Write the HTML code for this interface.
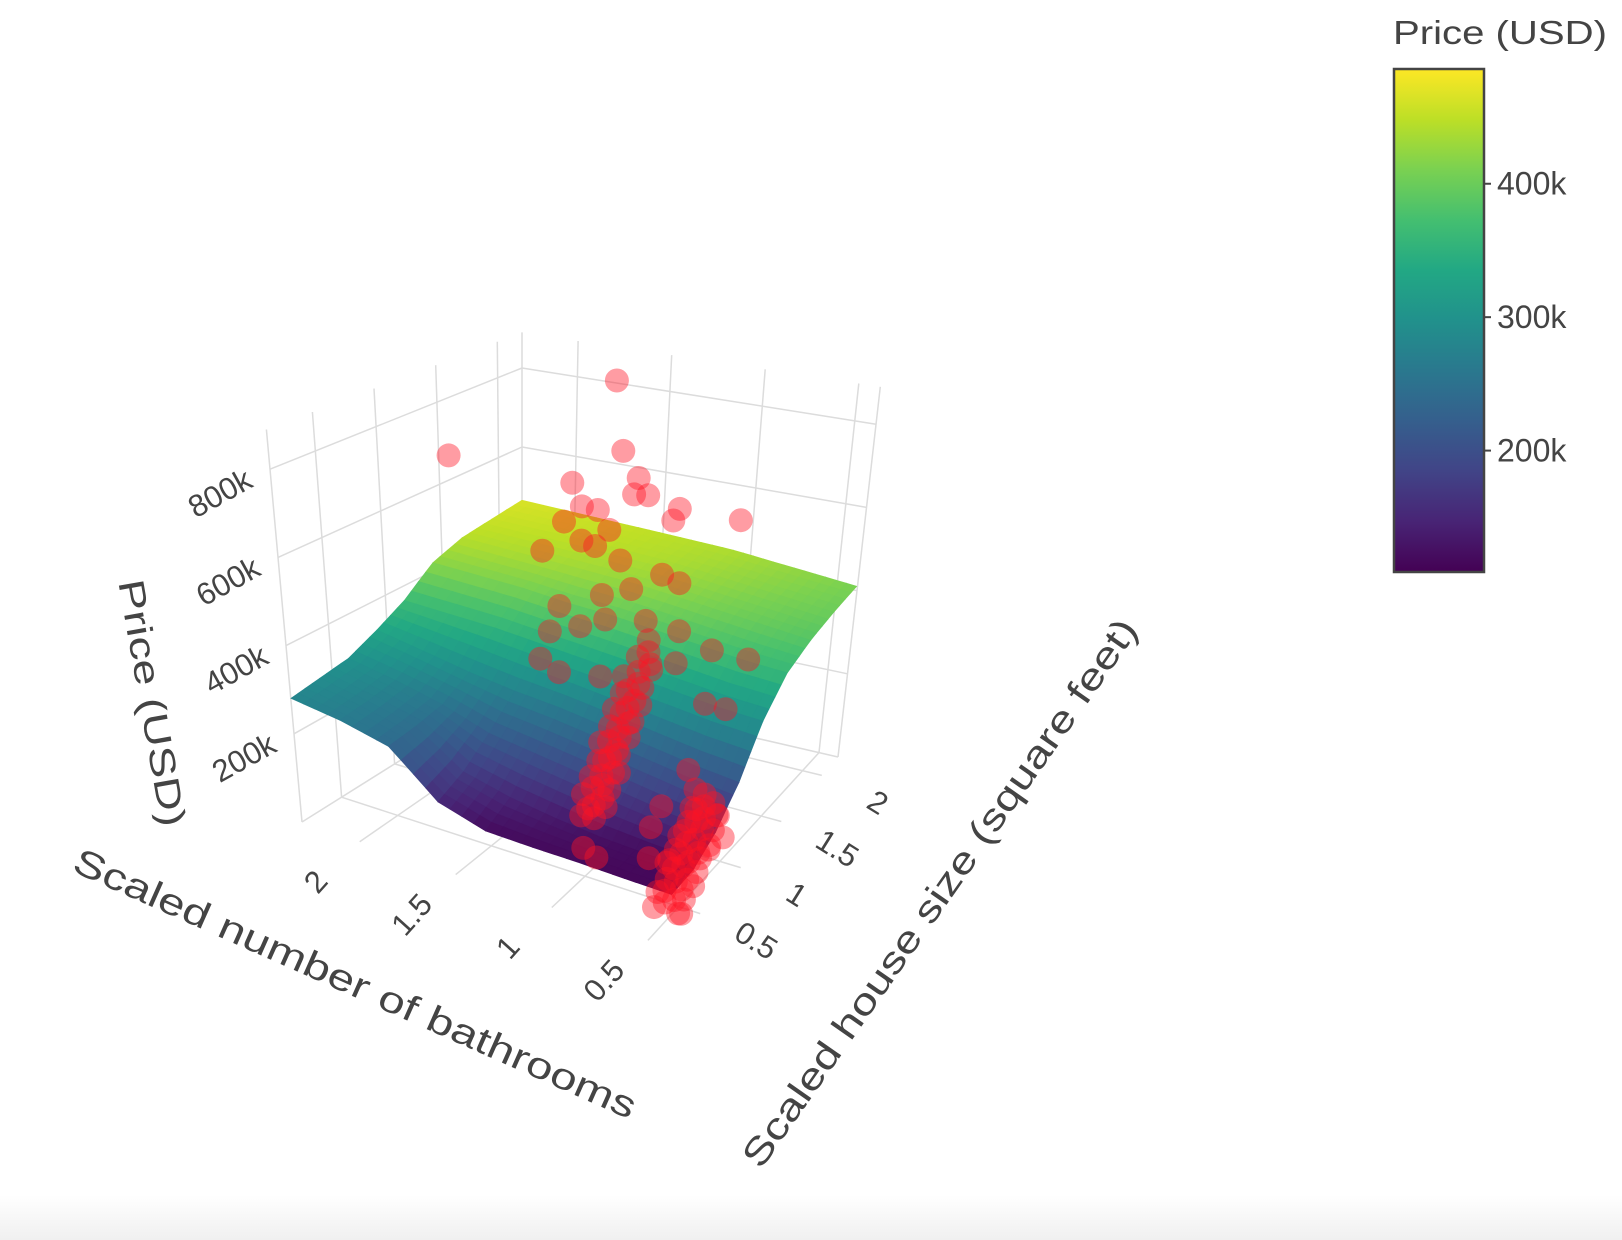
<!DOCTYPE html>
<html><head><meta charset="utf-8"><style>
html,body{margin:0;padding:0;background:#fff;}
svg{display:block;font-family:"Liberation Sans","DejaVu Sans",sans-serif;}
</style></head><body>
<svg id="chart" width="1622" height="1240" viewBox="0 0 1622 1240" xmlns="http://www.w3.org/2000/svg">
<defs>
<linearGradient id="vir" x1="0" y1="1" x2="0" y2="0">
<stop offset="0" stop-color="#440154"/><stop offset="0.1" stop-color="#482475"/><stop offset="0.2" stop-color="#414487"/><stop offset="0.3" stop-color="#355f8d"/><stop offset="0.4" stop-color="#2a788e"/><stop offset="0.5" stop-color="#21918c"/><stop offset="0.6" stop-color="#22a884"/><stop offset="0.7" stop-color="#44bf70"/><stop offset="0.8" stop-color="#7ad151"/><stop offset="0.9" stop-color="#bddf26"/><stop offset="1" stop-color="#fde725"/>
</linearGradient>
<linearGradient id="foot" x1="0" y1="0" x2="0" y2="1"><stop offset="0" stop-color="#ffffff"/><stop offset="1" stop-color="#f0f0f0"/></linearGradient>
</defs>
<rect x="0" y="1195" width="1622" height="45" fill="url(#foot)"/>
<g id="grid"></g>
<g id="surface"></g>
<g id="points"></g>
<g id="ticks"></g>
<text x="0" y="0" font-size="36" fill="#444" text-anchor="middle" textLength="250" lengthAdjust="spacingAndGlyphs" transform="translate(140,705) rotate(80)">Price (USD)</text>
<text x="0" y="0" font-size="37" fill="#444" text-anchor="middle" textLength="612" lengthAdjust="spacingAndGlyphs" transform="translate(350,995) rotate(24)">Scaled number of bathrooms</text>
<text x="0" y="0" font-size="37" fill="#444" text-anchor="middle" textLength="660" lengthAdjust="spacingAndGlyphs" transform="translate(950,900) rotate(-55)">Scaled house size (square feet)</text>
<g>
<text x="1393" y="44" font-size="33" fill="#444" textLength="214" lengthAdjust="spacingAndGlyphs">Price (USD)</text>
<rect x="1394" y="69" width="90" height="503" fill="url(#vir)" stroke="#444" stroke-width="2.5"/>
<g id="cbticks"></g>
</g>
</svg>
<script>
// ---- surface grid data ----
const gridBath = [0.39,0.63,0.87,1.10,1.34,1.58,1.82,2.06,2.30];
const gridSize = [0.13,0.39,0.65,0.91,1.16,1.42,1.68,1.94,2.20];
const gridPrice = [
 [115,118,150,210,300,360,385,400,410],
 [116,120,160,220,305,365,395,410,420],
 [118,125,175,235,315,375,405,420,430],
 [118,135,190,250,325,385,415,430,440],
 [120,150,205,265,335,395,425,440,445],
 [150,175,220,275,345,400,430,445,450],
 [240,245,255,290,355,410,435,450,455],
 [265,270,280,310,360,415,440,452,460],
 [280,290,300,330,365,420,445,455,465]
];
// ---- scatter data (scaled bathrooms, scaled size, price in k USD) ----
const ptBath = [1.21,2.04,1.17,1.42,1.09,1.11,1.04,0.88,0.575,1.37,1.29,1.46,1.23,0.91,1.37,1.57,1.30,1.17,0.955,0.865,1.11,1.26,1.48,1.24,1.37,1.53,1.03,0.855,0.68,0.49,1.58,1.48,1.26,0.865,0.70,0.59,0.77,0.725,0.63,0.68,0.44,0.44,0.96,1.03,0.685,
 0.88,0.92,0.90,0.87,0.93,0.89,0.91,0.86,0.92,0.90,0.88,0.93,0.89,0.91,0.87,0.92,0.90,0.88,0.93,0.89,0.91,0.87,0.90,0.92,
 0.95,0.84,0.97,0.85,0.96,0.83,0.95,0.86,0.97,0.84,0.95,0.85,0.96,0.84,0.95,0.86,0.97,0.85,0.94,
 0.42,0.50,0.46,0.52,0.44,0.48,0.43,0.51,0.47,0.45,0.50,0.42,0.49,0.46,0.52,0.44,0.48,0.45,0.50,0.47,0.43,0.49,
 0.40,0.55,0.41,0.56,0.39,0.54,0.40,0.57,0.41,0.55,0.39,0.56,0.40,0.54,0.41,0.55,0.40,0.56];
const ptSize = [1.16,1.16,1.16,1.16,1.16,1.16,1.16,1.16,1.16,1.16,1.16,1.16,1.16,1.16,1.16,1.16,1.16,1.16,1.16,1.16,1.16,1.16,1.16,1.16,1.16,1.16,1.16,1.16,1.16,1.16,1.16,1.16,1.16,1.16,1.16,1.16,1.16,1.16,0.54,0.54,0.87,0.79,0.54,0.54,0.54,
 0.33,0.35,0.37,0.40,0.42,0.44,0.47,0.49,0.52,0.54,0.57,0.59,0.62,0.64,0.67,0.70,0.72,0.75,0.78,0.81,0.85,0.89,0.93,0.97,
 0.34,0.37,0.40,0.43,0.46,0.49,0.52,0.55,0.58,0.61,0.64,0.67,0.70,0.73,0.76,0.79,0.82,0.86,0.90,
 0.30,0.32,0.34,0.36,0.38,0.40,0.42,0.44,0.46,0.48,0.50,0.52,0.54,0.56,0.58,0.60,0.62,0.64,0.66,0.68,0.70,0.73,
 0.29,0.31,0.34,0.37,0.40,0.43,0.46,0.49,0.52,0.55,0.58,0.61,0.64,0.67,0.70,0.72,0.60,0.50];
const ptPrice = [1000,740,840,740,785,745,750,735,740,690,690,645,650,705,610,565,605,585,575,565,525,495,445,440,410,380,460,455,430,430,310,290,305,380,305,305,145,105,198,145,88,153,40,52,75,
 177,190,196,210,222,230,243,252,266,272,286,296,305,318,330,342,352,365,378,392,410,425,442,460,
 172,200,206,226,236,256,262,282,290,312,318,336,346,364,372,390,398,420,432,
 36,45,52,60,70,78,85,95,102,110,118,126,135,142,150,160,168,176,185,192,200,206,
 40,30,60,50,80,70,98,90,115,110,135,128,155,150,176,170,120,95];
// ---- tick labels ----
const bathTicks = [0.5,1,1.5,2];
const bathTickLabels = ["0.5","1","1.5","2"];
const sizeTicks = [0.5,1,1.5,2];
const sizeTickLabels = ["0.5","1","1.5","2"];
const priceTicks = [200,400,600,800];
const priceTickLabels = ["200k","400k","600k","800k"];
const cbTicks = [200,300,400];
const cbTickLabels = ["200k","300k","400k"];

// ---- axis / projection ----
const B0=0.385,B1=2.30,S0=0.127,S1=2.2,ZMAX=890,CMIN=109,CMAX=486;
const cF=[670,948],cL=[302,822],cR=[838,757],cB=[522,684];
const uF=[2,-46],uL=[-4,-44.1],uR=[4.75,-41.6],uB=[0,-39.5];
function bil(a,b,c,d,u,v,k){return a[k]*(1-u)*(1-v)+b[k]*u*(1-v)+c[k]*(1-u)*v+d[k]*u*v;}
function P(bath,size,price){
  const u=(bath-B0)/(B1-B0), v=(size-S0)/(S1-S0), z=price/100;
  return [bil(cF,cL,cR,cB,u,v,0)+z*bil(uF,uL,uR,uB,u,v,0), bil(cF,cL,cR,cB,u,v,1)+z*bil(uF,uL,uR,uB,u,v,1)];
}
const NS="http://www.w3.org/2000/svg";
const vir=["#440154","#482475","#414487","#355f8d","#2a788e","#21918c","#22a884","#44bf70","#7ad151","#bddf26","#fde725"];
function hx(h){return [parseInt(h.substr(1,2),16),parseInt(h.substr(3,2),16),parseInt(h.substr(5,2),16)];}
function color(p){let t=(p-CMIN)/(CMAX-CMIN);t=Math.max(0,Math.min(1,t));const f=t*10,i=Math.min(9,Math.floor(f)),r=f-i;const a=hx(vir[i]),b=hx(vir[i+1]);return "rgb("+a.map((x,k)=>Math.round(x+(b[k]-x)*r)).join(",")+")";}
function line(g,a,b,name){const l=document.createElementNS(NS,"line");
  
  
  l.setAttribute("x1",a[0].toFixed(1));l.setAttribute("y1",a[1].toFixed(1));l.setAttribute("x2",b[0].toFixed(1));l.setAttribute("y2",b[1].toFixed(1));
  l.setAttribute("stroke","#dcdcdc");l.setAttribute("stroke-width","1.5");g.appendChild(l);}
const grid=document.getElementById("grid");
bathTicks.forEach(b=>{line(grid,P(b,S0,0),P(b,S1,0),"floor-bath-gridline");line(grid,P(b,S1,0),P(b,S1,ZMAX),"wall-bath-gridline");});
sizeTicks.forEach(s=>{line(grid,P(B0,s,0),P(B1,s,0),"floor-size-gridline");line(grid,P(B1,s,0),P(B1,s,ZMAX),"wall-size-gridline");});
[0].concat(priceTicks).forEach(p=>{line(grid,P(B1,S0,p),P(B1,S1,p),"wall-price-gridline");line(grid,P(B1,S1,p),P(B0,S1,p),"wall-price-gridline");});
line(grid,P(B1,S1,0),P(B1,S1,ZMAX),"back-edge");line(grid,P(B1,S0,0),P(B1,S0,ZMAX),"left-edge");line(grid,P(B0,S1,0),P(B0,S1,ZMAX),"right-edge");

// surface
const surf=document.getElementById("surface");
const N=4,cells=[];
function zAt(i,j,a,b){const z00=gridPrice[i][j],z10=gridPrice[i+1][j],z01=gridPrice[i][j+1],z11=gridPrice[i+1][j+1];return z00*(1-a)*(1-b)+z10*a*(1-b)+z01*(1-a)*b+z11*a*b;}
for(let i=0;i<gridBath.length-1;i++)for(let j=0;j<gridSize.length-1;j++)for(let m=0;m<N;m++)for(let n=0;n<N;n++){
  const a0=m/N,a1=(m+1)/N,b0=n/N,b1=(n+1)/N;
  const bb=t=>gridBath[i]+(gridBath[i+1]-gridBath[i])*t, ss=t=>gridSize[j]+(gridSize[j+1]-gridSize[j])*t;
  const pts=[P(bb(a0),ss(b0),zAt(i,j,a0,b0)),P(bb(a1),ss(b0),zAt(i,j,a1,b0)),P(bb(a1),ss(b1),zAt(i,j,a1,b1)),P(bb(a0),ss(b1),zAt(i,j,a0,b1))];
  cells.push({d:(i+a0)+(j+b0),pts,c:color(zAt(i,j,(a0+a1)/2,(b0+b1)/2))});
}
cells.sort((x,y)=>y.d-x.d);
cells.forEach(c=>{const p=document.createElementNS(NS,"polygon");
  
  
  p.setAttribute("points",c.pts.map(q=>q[0].toFixed(1)+","+q[1].toFixed(1)).join(" "));
  p.setAttribute("fill",c.c);p.setAttribute("stroke",c.c);p.setAttribute("stroke-width","0.8");surf.appendChild(p);});

// scatter
const pg=document.getElementById("points");
for(let k=0;k<ptBath.length;k++){const q=P(ptBath[k],ptSize[k],ptPrice[k]);const c=document.createElementNS(NS,"circle");
  
  
  c.setAttribute("cx",q[0].toFixed(1));c.setAttribute("cy",q[1].toFixed(1));c.setAttribute("r","12");
  c.setAttribute("fill","rgba(255,20,35,0.42)");pg.appendChild(c);}

// tick labels
const tg=document.getElementById("ticks");
function tlabel(txt,x,y,rot,name){const t=document.createElementNS(NS,"text");
  
  
  t.setAttribute("x","0");t.setAttribute("y","0");t.setAttribute("font-size","31");t.setAttribute("fill","#444");
  t.setAttribute("text-anchor","middle");t.setAttribute("dominant-baseline","central");
  t.setAttribute("transform","translate("+x.toFixed(1)+","+y.toFixed(1)+") rotate("+rot+")");t.textContent=txt;tg.appendChild(t);}
bathTicks.forEach((b,i)=>{const q=P(b,S0,0);tlabel(bathTickLabels[i],q[0]-44,q[1]+40,-48,"bath-tick-label");});
sizeTicks.forEach((s,i)=>{const q=P(B0,s,0);tlabel(sizeTickLabels[i],q[0]+56,q[1]+27,32,"size-tick-label");});
priceTicks.forEach((p,i)=>{const q=P(B1,S0,p);tlabel(priceTickLabels[i],q[0]-50,q[1]+24,-29,"price-tick-label");});

// colorbar ticks
const cg=document.getElementById("cbticks");
cbTicks.forEach((v,i)=>{const y=572-(v-CMIN)/(CMAX-CMIN)*503;
  const l=document.createElementNS(NS,"line");
  
  
  l.setAttribute("x1","1484");l.setAttribute("x2","1491");l.setAttribute("y1",y);l.setAttribute("y2",y);l.setAttribute("stroke","#444");l.setAttribute("stroke-width","2");cg.appendChild(l);
  const t=document.createElementNS(NS,"text");
  
  
  t.setAttribute("x","1497");t.setAttribute("y",y+11);t.setAttribute("font-size","32");t.setAttribute("fill","#444");t.textContent=cbTickLabels[i];cg.appendChild(t);});
</script>
</body></html>
